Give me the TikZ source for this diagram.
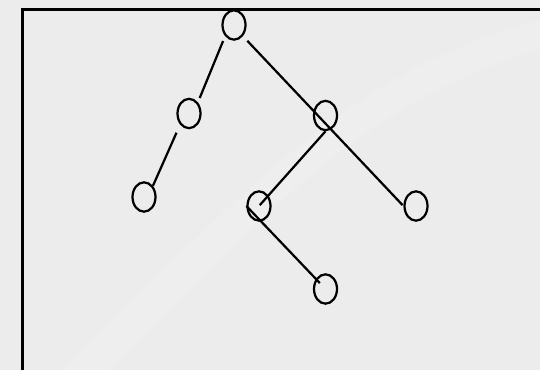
\documentclass[tikz,border=0pt]{standalone}
\usepackage{tikz}
\usetikzlibrary{shapes.geometric}
\definecolor{SlideGray}{HTML}{ECECEC}
\definecolor{SlideLight}{HTML}{F0F0F0}

\begin{document}
\begin{tikzpicture}[x=0.03cm,y=-0.03cm,
      vert/.style={ellipse,draw=black,line width=1.9pt,
      minimum width=0.69cm,minimum height=0.88cm,inner sep=0pt},
      edge/.style={black,line width=1.9pt}]
      \clip (0,0) rectangle (540,370);
      \fill[SlideGray] (0,0) rectangle (540,370);
      \fill[SlideLight,opacity=0.5] (60,370) .. controls (220,220) and (340,70) .. (540,20)
        -- (540,50) .. controls (360,100) and (250,230) .. (110,370) -- cycle;
      \draw[line width=2.4pt] (22.7,380) |- (560,9.5);
      \node[vert] (root) at (234,25) {};
      \node[vert] (l1) at (189,113.5) {};
      \node[vert] (ll) at (144,197) {};
      \node[vert] (r1) at (325.5,115.5) {};
      \node[vert] (rl) at (259,206) {};
      \node[vert] (rr) at (416,206) {};
      \node[vert] (rlr) at (325.5,289) {};
      \draw[edge,shorten <=4.5pt,shorten >=4pt] (root.south west)--(l1.north east);
      \draw[edge,shorten <=7.5pt] (l1.south west)--(ll.north east);
      \draw[edge,shorten <=5.5pt,shorten >=1pt] (root.south east)--(rr.west);
      \draw[edge,shorten >=1pt] (r1.south)--(rl.center);
      \draw[edge,shorten >=7pt] (rl.west)--(rlr.center);
    \end{tikzpicture}
\end{document}
